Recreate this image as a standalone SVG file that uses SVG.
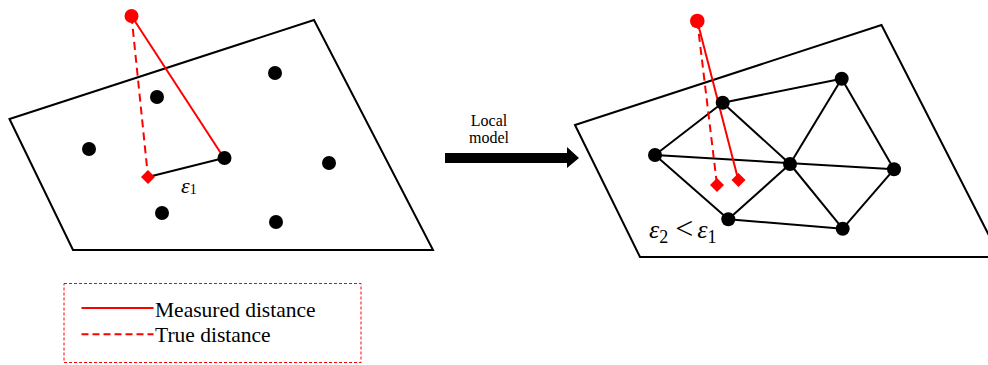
<svg xmlns="http://www.w3.org/2000/svg" width="988" height="365" viewBox="0 0 988 365">
<style>
.plane{fill:none;stroke:#000;stroke-width:2;stroke-linejoin:miter}
.edge{stroke:#000;stroke-width:2;fill:none}
.dot{fill:#000}
.meas{stroke:#ff0000;stroke-width:2;fill:none}
.true{stroke:#ff0000;stroke-width:2;fill:none;stroke-dasharray:8,5}
.red{fill:#ff0000}
.lbl{font-family:"Liberation Serif","Times New Roman",serif;fill:#000}
.eps{font-family:"Liberation Serif","Times New Roman",serif;font-style:italic;fill:#000}
</style>
<rect width="988" height="365" fill="#fff"/>

<g id="left-panel">
  <polygon class="plane" points="9.5,119 314,20 433,250 73,250"/>
</g>
<g id="left-connectors">
  <line class="edge" x1="148" y1="177" x2="224" y2="158"/>
  <line class="true" x1="131.5" y1="16" x2="148" y2="177"/>
  <line class="meas" x1="131.5" y1="16" x2="224" y2="158"/>
</g>
<g id="left-dots">
  <circle class="dot" cx="157" cy="97" r="7"/>
  <circle class="dot" cx="275" cy="73" r="7"/>
  <circle class="dot" cx="89" cy="149" r="7"/>
  <circle class="dot" cx="224.5" cy="158" r="7"/>
  <circle class="dot" cx="329" cy="163" r="7"/>
  <circle class="dot" cx="162" cy="213" r="7"/>
  <circle class="dot" cx="276" cy="222" r="7"/>
</g>
<g id="left-points">
  <circle class="red" cx="131.5" cy="16" r="7"/>
  <polygon class="red" points="148,170 155,177 148,184 141,177"/>
</g>
<g id="left-label">
  <text class="eps" x="181" y="193" font-size="22">ε<tspan font-style="normal" font-size="14" dy="1">1</tspan></text>
</g>

<g id="arrow">
  <polygon fill="#000" points="445,153 567,153 567,147 579,158 567,168 567,163 445,163"/>
  <text class="lbl" x="489" y="126" font-size="16" text-anchor="middle">Local</text>
  <text class="lbl" x="489" y="143" font-size="16" text-anchor="middle">model</text>
</g>

<g id="right-panel">
  <polygon class="plane" points="575,125 881.5,25 1000,257 640,257"/>
</g>
<g id="right-connectors">
  <line class="edge" x1="722.7" y1="102.7" x2="841.7" y2="78.7"/>
  <line class="edge" x1="722.7" y1="102.7" x2="655" y2="155"/>
  <line class="edge" x1="722.7" y1="102.7" x2="790" y2="164"/>
  <line class="edge" x1="841.7" y1="78.7" x2="790" y2="164"/>
  <line class="edge" x1="841.7" y1="78.7" x2="894" y2="169.3"/>
  <line class="edge" x1="655" y1="155" x2="894" y2="169.3"/>
  <line class="edge" x1="655" y1="155" x2="728.3" y2="219.3"/>
  <line class="edge" x1="728.3" y1="219.3" x2="790" y2="164"/>
  <line class="edge" x1="790" y1="164" x2="842.7" y2="228.7"/>
  <line class="edge" x1="728.3" y1="219.3" x2="842.7" y2="228.7"/>
  <line class="edge" x1="842.7" y1="228.7" x2="894" y2="169.3"/>
  <line class="true" x1="697.3" y1="21" x2="717" y2="185"/>
  <line class="meas" x1="697.3" y1="21" x2="738.3" y2="180"/>
</g>
<g id="right-nodes">
  <circle id="nA" class="dot" cx="722.7" cy="102.7" r="7"/>
  <circle id="nB" class="dot" cx="841.7" cy="78.7" r="7"/>
  <circle id="nC" class="dot" cx="655" cy="155" r="7"/>
  <circle id="nD" class="dot" cx="790" cy="164" r="7"/>
  <circle id="nE" class="dot" cx="894" cy="169.3" r="7"/>
  <circle id="nF" class="dot" cx="728.3" cy="219.3" r="7"/>
  <circle id="nG" class="dot" cx="842.7" cy="228.7" r="7"/>
</g>
<g id="right-points">
  <circle class="red" cx="697.3" cy="21" r="7.3"/>
  <polygon class="red" points="717,178 724,185 717,192 710,185"/>
  <polygon class="red" points="738.5,173 745.5,180 738.5,187 731.5,180"/>
</g>
<g id="right-label">
  <text class="eps" x="649" y="238" font-size="26">ε<tspan font-style="normal" font-size="18" dy="5">2</tspan><tspan font-style="normal" font-size="32" dy="-4" dx="7">&lt;</tspan><tspan dx="4" dy="-1">ε</tspan><tspan font-style="normal" font-size="18" dy="5">1</tspan></text>
</g>

<g id="legend">
  <rect x="64" y="283.5" width="297" height="79" fill="none" stroke="#ff0000" stroke-width="1" stroke-dasharray="3,2"/>
  <line class="meas" x1="81.5" y1="308" x2="153.5" y2="308"/>
  <line class="meas" x1="81.5" y1="334.3" x2="153.5" y2="334.3" stroke-dasharray="7,4"/>
  <text class="lbl" x="155" y="316.5" font-size="21.5">Measured distance</text>
  <text class="lbl" x="155" y="342" font-size="21.5">True distance</text>
</g>
</svg>
